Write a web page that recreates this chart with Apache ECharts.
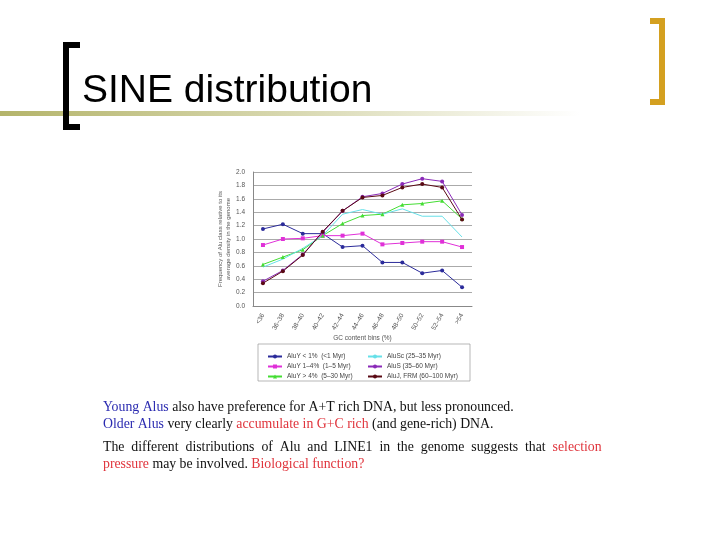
<!DOCTYPE html>
<html>
<head>
<meta charset="utf-8">
<script src="https://cdn.jsdelivr.net/npm/echarts@6/dist/echarts.min.js"></script>
<style>html,body{margin:0;padding:0;background:#fff}#c{width:720px;height:540px}</style>
</head>
<body>
<div id="c"></div>
<script>
var categories = ['<36', '36–38', '38–40', '40–42', '42–44', '44–46', '46–48', '48–50', '50–52', '52–54', '>54'];
var aluYlt1 = [1.15, 1.22, 1.08, 1.08, 0.88, 0.90, 0.65, 0.65, 0.49, 0.53, 0.28];
var aluY14 = [0.91, 1.00, 1.01, 1.05, 1.05, 1.08, 0.92, 0.94, 0.96, 0.96, 0.88];
var aluYgt4 = [0.62, 0.73, 0.84, 1.05, 1.23, 1.35, 1.37, 1.51, 1.53, 1.57, 1.30];
var aluSc = [0.58, 0.70, 0.86, 1.05, 1.37, 1.44, 1.37, 1.45, 1.34, 1.34, 1.03];
var aluS = [0.37, 0.53, 0.77, 1.10, 1.42, 1.63, 1.68, 1.82, 1.90, 1.86, 1.36];
var aluJ = [0.34, 0.52, 0.76, 1.11, 1.42, 1.62, 1.65, 1.77, 1.82, 1.77, 1.29];

var names = ['AluY < 1%  (<1 Myr)', 'AluY 1–4%  (1–5 Myr)', 'AluY > 4%  (5–30 Myr)',
             'AluSc (25–35 Myr)', 'AluS (35–60 Myr)', 'AluJ, FRM (60–100 Myr)'];
var data = [aluYlt1, aluY14, aluYgt4, aluSc, aluS, aluJ];
var colors = ['#2b2b9a', '#e030d8', '#44dd33', '#66e0e8', '#8a2ab8', '#5a0a14'];
var symbols = ['circle', 'rect', 'triangle', 'none', 'circle', 'circle'];

var chart = echarts.init(document.getElementById('c'));
var serif = '"Liberation Serif", "DejaVu Serif", serif';
var fs = '13.8px ';
var blue = '#2a2ab0', red = '#e0343c';
var legendBase = { orient: 'vertical', top: 348, itemWidth: 14, itemHeight: 5, itemGap: 3,
                   textStyle: { fontSize: 6.5, color: '#444' } };

chart.setOption({
  animation: false,
  color: colors,
  grid: { left: 253, right: 248, top: 172, bottom: 234 },
  legend: [
    Object.assign({ left: 262, data: names.slice(0, 3) }, legendBase),
    Object.assign({ left: 362, data: names.slice(3) }, legendBase)
  ],
  xAxis: {
    type: 'category', data: categories, boundaryGap: true,
    name: 'GC content bins (%)', nameLocation: 'middle', nameGap: 28,
    nameTextStyle: { fontSize: 6.5, color: '#555' },
    axisLine: { lineStyle: { color: '#888' } }, axisTick: { show: false },
    axisLabel: { rotate: 60, fontSize: 6.5, color: '#555' }
  },
  yAxis: {
    type: 'value', min: 0, max: 2, interval: 0.2,
    name: 'Frequency of Alu class relative to its\naverage density in the genome',
    nameLocation: 'middle', nameGap: 20, nameTextStyle: { fontSize: 6, color: '#555', lineHeight: 8 },
    axisLine: { show: true, lineStyle: { color: '#888' } },
    axisLabel: { fontSize: 6.5, color: '#555', formatter: function (v) { return v.toFixed(1); } },
    splitLine: { lineStyle: { color: '#aaa' } }
  },
  series: data.map(function (d, i) {
    return { name: names[i], type: 'line', data: d, symbol: symbols[i], symbolSize: 4,
             lineStyle: { width: 1 } };
  }),
  graphic: [
    { type: 'rect', left: 0, top: 111, shape: { width: 580, height: 5 },
      style: { fill: new echarts.graphic.LinearGradient(0, 0, 1, 0, [
        { offset: 0, color: '#b4b46a' }, { offset: 0.5, color: '#d8d8b0' }, { offset: 1, color: '#ffffff' }]) } },
    { type: 'rect', shape: { x: 63, y: 42, width: 6, height: 88 }, style: { fill: '#000' } },
    { type: 'rect', shape: { x: 63, y: 42, width: 17, height: 6 }, style: { fill: '#000' } },
    { type: 'rect', shape: { x: 63, y: 124, width: 17, height: 6 }, style: { fill: '#000' } },
    { type: 'rect', shape: { x: 659, y: 18, width: 6, height: 87 }, style: { fill: '#d4a020' } },
    { type: 'rect', shape: { x: 650, y: 18, width: 15, height: 6 }, style: { fill: '#d4a020' } },
    { type: 'rect', shape: { x: 650, y: 99, width: 15, height: 6 }, style: { fill: '#d4a020' } },
    { type: 'text', left: 82, top: 72, style: { text: 'SINE distribution', font: '39px "Liberation Sans", Arial, sans-serif', fill: '#000' } },
    { type: 'rect', shape: { x: 258, y: 344, width: 212, height: 37 }, style: { fill: 'none', stroke: '#999', lineWidth: 0.7 } },
    { type: 'text', left: 103, top: 399, style: {
      text: '{b|Young Alus} also have preference for A+T rich DNA, but less pronounced.\n{b|Older Alus} very clearly {r|accumulate in G+C rich} (and gene-rich) DNA.',
      font: fs + serif, fill: '#111', lineHeight: 17,
      rich: { b: { fill: blue, font: fs + serif }, r: { fill: red, font: fs + serif } } } },
    { type: 'text', left: 103, top: 439, style: {
      text: 'The  different  distributions  of  Alu  and  LINE1  in  the  genome  suggests  that  {r|selection}\n{r|pressure} may be involved. {r|Biological function?}',
      font: fs + serif, fill: '#111', lineHeight: 17,
      rich: { r: { fill: red, font: fs + serif } } } }
  ]
});
</script>
</body>
</html>
